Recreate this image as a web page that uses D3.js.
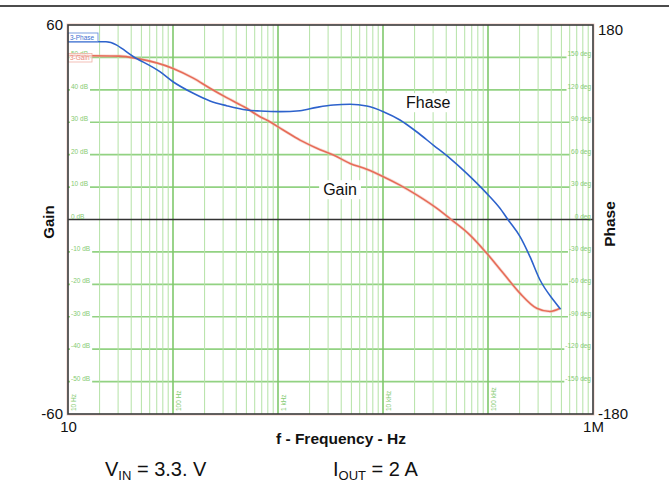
<!DOCTYPE html>
<html>
<head>
<meta charset="utf-8">
<script src="https://cdn.jsdelivr.net/npm/d3@7"></script>
<style>
  body { margin: 0; background: #fff; }
  svg { font-family: "Liberation Sans", Arial, sans-serif; display: block; }
  .tick line, .domain { display: none; }
</style>
</head>
<body>
<div id="chart"></div>
<script>
var gainFreq = [10, 31, 45, 100, 156, 225, 324, 503, 674, 780, 1120, 1620, 2340, 3370, 4850, 7000,
  10070, 14500, 20900, 32400, 45100, 67400, 97200, 140000, 202000, 291000, 389000, 485000];
var gainDb = [50.6, 50.4, 49.7, 46.6, 43.6, 40.5, 37.6, 34.3, 31.7, 30.7, 27.6, 24.5, 22.0, 19.9, 17.3, 15.5,
  13.2, 10.6, 7.6, 3.5, -0.15, -4.8, -10.4, -16.6, -22.8, -27.4, -28.4, -27.4];

var phaseFreq = [10, 23, 45, 75, 100, 156, 225, 324, 503, 674, 1045, 1620, 2340, 3370, 4850, 7000,
  10070, 14500, 20900, 30100, 43500, 62700, 97200, 130000, 156000, 202000, 251000, 313000, 419000, 492000];
var phaseDeg = [164.5, 164.5, 149, 136.8, 127.5, 116.8, 109.7, 105.3, 101.3, 100.4, 99.8, 100.7, 103.8, 106, 106.6, 105,
  99.8, 92.1, 81.2, 68.9, 56.6, 42.7, 24.2, 10.4, -0.5, -15.9, -34.4, -56, -74.5, -83.1];

// grid labels
var dbTicks = [50, 40, 30, 20, 10, 0, -10, -20, -30, -40, -50];
var degTicks = [150, 120, 90, 60, 30, 0, -30, -60, -90, -120, -150];
var decadeLabels = [[10, "10 Hz"], [100, "100 Hz"], [1000, "1 kHz"], [10000, "10 kHz"], [100000, "100 kHz"]];

var svg = d3.select("#chart").append("svg")
  .attr("width", 669)
  .attr("height", 501);

var margin = {top: 25, right: 76, bottom: 87, left: 68},
  width = +svg.attr("width") - margin.left - margin.right,
  height = +svg.attr("height") - margin.top - margin.bottom;

var x = d3.scaleLog().domain([10, 1e6]).range([0, width]);
var yGain = d3.scaleLinear().domain([-60, 60]).range([height, 0]);
var yPhase = d3.scaleLinear().domain([-180, 180]).range([height, 0]);

// top rule of the page
svg.append("line")
  .attr("x1", 0).attr("x2", 669).attr("y1", 6).attr("y2", 6)
  .attr("stroke", "#111").attr("stroke-width", 1.5);

var g = svg.append("g").attr("transform", "translate(" + margin.left + "," + margin.top + ")");

// layers: horizontal grid, label patches, vertical grid, labels
var hGrid = g.append("g");
var patches = g.append("g");
var vGrid = g.append("g");
var labels = g.append("g");

hGrid.selectAll("line")
  .data(dbTicks.filter(function(d) { return d !== 0; }))
  .enter().append("line")
  .attr("x1", 0).attr("x2", width)
  .attr("y1", function(d) { return yGain(d); })
  .attr("y2", function(d) { return yGain(d); })
  .attr("stroke", "#92d282").attr("stroke-width", 1.6);

var minor = [];
for (var p = 1; p < 6; p++) {
  for (var k = 2; k < 10; k++) minor.push(k * Math.pow(10, p));
}
vGrid.selectAll(".vminor")
  .data(minor)
  .enter().append("line")
  .attr("class", "vminor")
  .attr("x1", function(d) { return x(d); })
  .attr("x2", function(d) { return x(d); })
  .attr("y1", 0).attr("y2", height)
  .attr("stroke", "#b4e2a6").attr("stroke-width", 1);

vGrid.selectAll(".vmajor")
  .data([100, 1000, 10000, 100000])
  .enter().append("line")
  .attr("class", "vmajor")
  .attr("x1", function(d) { return x(d); })
  .attr("x2", function(d) { return x(d); })
  .attr("y1", 0).attr("y2", height)
  .attr("stroke", "#80c86c").attr("stroke-width", 1.6);

// zero line
vGrid.append("line")
  .attr("x1", 0).attr("x2", width)
  .attr("y1", yGain(0)).attr("y2", yGain(0))
  .attr("stroke", "#333").attr("stroke-width", 1.4);

// small grid labels with white patches that cut the horizontal lines
function smallLabels(data, scale, fmt, xpos, anchor) {
  labels.selectAll(null)
    .data(data)
    .enter().append("text")
    .attr("x", xpos)
    .attr("y", function(d) { return scale(d) - 1; })
    .attr("text-anchor", anchor)
    .attr("font-size", 6.5)
    .attr("fill", "#86cb72")
    .text(fmt)
    .each(function(d) {
      if (d === 0) return;
      var b = this.getBBox();
      patches.append("rect")
        .attr("x", b.x - 1).attr("y", b.y + 1)
        .attr("width", b.width + 3).attr("height", b.height + 1)
        .attr("fill", "#fff");
    });
}
smallLabels(dbTicks, yGain, function(d) { return d + " dB"; }, 3, "start");
smallLabels(degTicks, yPhase, function(d) { return d + " deg"; }, width - 2, "end");

// decade labels, rotated, near the bottom
labels.selectAll(".declab")
  .data(decadeLabels)
  .enter().append("text")
  .attr("transform", function(d) { return "translate(" + (x(d[0]) + 8) + "," + (height - 3) + ") rotate(-90)"; })
  .attr("font-size", 6.5)
  .attr("fill", "#86cb72")
  .text(function(d) { return d[1]; });

// curves
var gainLine = d3.line()
  .x(function(d, i) { return x(gainFreq[i]); })
  .y(function(d) { return yGain(d); })
  .curve(d3.curveMonotoneX);

var phaseLine = d3.line()
  .x(function(d, i) { return x(phaseFreq[i]); })
  .y(function(d) { return yPhase(d); })
  .curve(d3.curveMonotoneX);

g.append("path")
  .attr("d", gainLine(gainDb))
  .attr("fill", "none").attr("stroke", "#f4b6aa").attr("stroke-width", 3).attr("opacity", 0.5);
g.append("path")
  .attr("d", gainLine(gainDb))
  .attr("fill", "none").attr("stroke", "#e66c58").attr("stroke-width", 1.6);

g.append("path")
  .attr("d", phaseLine(phaseDeg))
  .attr("fill", "none").attr("stroke", "#2d62cc").attr("stroke-width", 1.6);

// legend tags
g.append("rect").attr("x", 0).attr("y", 8).attr("width", 30).attr("height", 8.5)
  .attr("fill", "#fff").attr("stroke", "#5a86d8").attr("stroke-width", 0.8);
g.append("text").attr("x", 2).attr("y", 14.8).attr("font-size", 6.5).attr("fill", "#3d6fd0").text("3-Phase");
g.append("rect").attr("x", 0).attr("y", 28.5).attr("width", 24).attr("height", 8.5)
  .attr("fill", "#fff").attr("fill-opacity", 0.6).attr("stroke", "#f0b0a6").attr("stroke-width", 0.8);
g.append("text").attr("x", 2).attr("y", 35.3).attr("font-size", 6.5).attr("fill", "#e88a7a").text("3-Gain");

// plot frame
g.append("rect").attr("x", -1).attr("y", -1).attr("width", width + 2).attr("height", height + 2)
  .attr("fill", "none").attr("stroke", "#f2cdc4").attr("stroke-width", 1);
g.append("rect").attr("x", 0).attr("y", 0).attr("width", width).attr("height", height)
  .attr("fill", "none").attr("stroke", "#3a3a3a").attr("stroke-width", 1.6);

// curve annotations
function note(txt, cx, cy) {
  var t = g.append("text").attr("x", cx).attr("y", cy).attr("text-anchor", "middle")
    .attr("font-size", 16).attr("fill", "#111").text(txt);
  var b = t.node().getBBox();
  g.insert("rect", function() { return t.node(); })
    .attr("x", b.x - 4).attr("y", b.y - 1).attr("width", b.width + 8).attr("height", b.height + 2)
    .attr("fill", "#fff");
}
note("Fhase", x(27000), yPhase(103));
note("Gain", x(3900), yGain(7.5));

// end-value axes
var fmt = function(d) { return String(d); };
var axL = g.append("g")
  .call(d3.axisLeft(yGain).tickValues([-60, 60]).tickSize(0).tickPadding(5).tickFormat(fmt));
var axR = g.append("g").attr("transform", "translate(" + width + ",0)")
  .call(d3.axisRight(yPhase).tickValues([-180, 180]).tickSize(0).tickPadding(5).tickFormat(fmt));
var axB = g.append("g").attr("transform", "translate(0," + height + ")")
  .call(d3.axisBottom(x).tickValues([10, 1e6]).tickSize(0).tickPadding(7)
    .tickFormat(function(d) { return d === 10 ? "10" : "1M"; }));
[axL, axR, axB].forEach(function(a) {
  a.attr("font-family", null).attr("font-size", null);
  a.selectAll("text").attr("font-size", 15).attr("fill", "#111");
});
axL.selectAll("text").attr("dy", "0.3em");
axR.selectAll("text").attr("dy", function(d) { return d > 0 ? "0.6em" : "0.3em"; });

// axis titles
svg.append("text")
  .attr("transform", "translate(54,222) rotate(-90)")
  .attr("text-anchor", "middle").attr("font-weight", "bold").attr("font-size", 15)
  .attr("fill", "#111").text("Gain");
svg.append("text")
  .attr("transform", "translate(615,224) rotate(-90)")
  .attr("text-anchor", "middle").attr("font-weight", "bold").attr("font-size", 15.5)
  .attr("fill", "#111").text("Phase");
svg.append("text")
  .attr("x", 341).attr("y", 444)
  .attr("text-anchor", "middle").attr("font-weight", "bold").attr("font-size", 15.5)
  .attr("fill", "#111").text("f - Frequency - Hz");

// test conditions
var vin = svg.append("text").attr("x", 105).attr("y", 476).attr("font-size", 20).attr("fill", "#111");
vin.append("tspan").text("V");
vin.append("tspan").attr("font-size", 13).attr("dy", 4).text("IN");
vin.append("tspan").attr("dy", -4).text(" = 3.3. V");

var iout = svg.append("text").attr("x", 333).attr("y", 476).attr("font-size", 20).attr("fill", "#111");
iout.append("tspan").text("I");
iout.append("tspan").attr("font-size", 13).attr("dy", 4).text("OUT");
iout.append("tspan").attr("dy", -4).text(" = 2 A");
</script>
</body>
</html>
